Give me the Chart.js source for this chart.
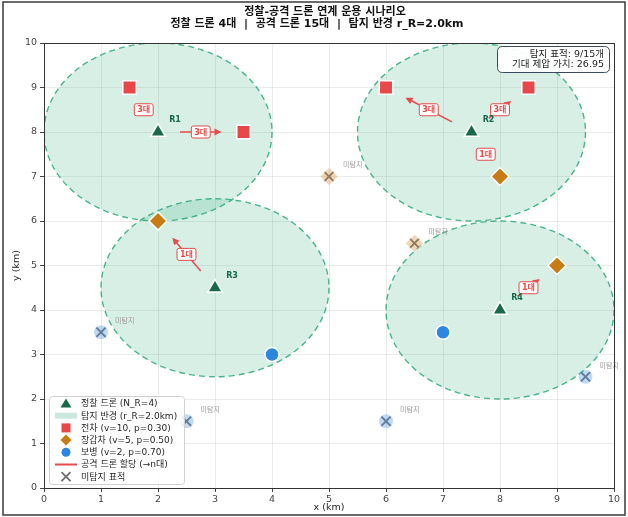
<!DOCTYPE html>
<html>
<head>
<meta charset="utf-8">
<script src="https://cdn.jsdelivr.net/npm/chart.js@4.4.1/dist/chart.umd.min.js"></script>
<style>
  html, body { margin: 0; padding: 0; background: #ffffff; }
  canvas { display: block; }
</style>
</head>
<body>
<canvas id="c" width="628" height="517"></canvas>
<script>
// ---------------- DATA ----------------
const titleLine1 = '정찰-공격 드론 연계 운용 시나리오';
const titleLine2 = '정찰 드론 4대  |  공격 드론 15대  |  탐지 반경 r_R=2.0km';
const xTicks = [0, 1, 2, 3, 4, 5, 6, 7, 8, 9, 10];
const yTicks = [0, 1, 2, 3, 4, 5, 6, 7, 8, 9, 10];
const detectRadius = 2.0;

const droneNames = ['R1', 'R2', 'R3', 'R4'];
const droneX = [2, 7.5, 3, 8];
const droneY = [8, 8, 4.5, 4];

const tankX = [1.5, 3.5, 6, 8.5];
const tankY = [9, 8, 9, 9];
const armorX = [2, 8, 9];
const armorY = [6, 7, 5];
const infantryX = [4, 7];
const infantryY = [3, 3.5];

const undetArmorX = [5, 6.5];
const undetArmorY = [7, 5.5];
const undetInfantryX = [1, 2.5, 6, 9.5];
const undetInfantryY = [3.5, 1.5, 1.5, 2.5];

const assignFrom = [0, 0, 1, 1, 1, 2, 3];
const assignToX = [1.5, 3.5, 6, 8.5, 8, 2, 9];
const assignToY = [9, 8, 9, 9, 7, 6, 5];
const assignCount = [3, 3, 3, 3, 1, 1, 1];

const legendLabels = ['정찰 드론 (N_R=4)', '탐지 반경 (r_R=2.0km)', '전차 (v=10, p=0.30)',
  '장갑차 (v=5, p=0.50)', '보병 (v=2, p=0.70)', '공격 드론 할당 (→n대)', '미탐지 표적'];
const infoLines = ['탐지 표적: 9/15개', '기대 제압 가치: 26.95'];
const undetLabel = '미탐지';

// ---------------- STYLE ----------------
const FONT = "'DejaVu Sans', 'Noto Sans CJK KR', sans-serif";
const C_DRONE = '#17694a';
const C_TANK = '#e8474a';
const C_ARMOR = '#c97a12';
const C_INF = '#2d86e0';
const C_ARROW = '#e64b4b';
const C_ZONE = 'rgba(44,168,122,0.185)';
const C_ZONE_EDGE = 'rgba(44,168,122,0.85)';

const pts = (xs, ys) => xs.map((x, i) => ({ x: x, y: ys[i] }));

function rr(ctx, x, y, w, h, r) {
  ctx.beginPath();
  ctx.moveTo(x + r, y);
  ctx.lineTo(x + w - r, y);
  ctx.quadraticCurveTo(x + w, y, x + w, y + r);
  ctx.lineTo(x + w, y + h - r);
  ctx.quadraticCurveTo(x + w, y + h, x + w - r, y + h);
  ctx.lineTo(x + r, y + h);
  ctx.quadraticCurveTo(x, y + h, x, y + h - r);
  ctx.lineTo(x, y + r);
  ctx.quadraticCurveTo(x, y, x + r, y);
  ctx.closePath();
}

const overlay = {
  id: 'overlay',
  beforeDatasetsDraw(chart) {
    const ctx = chart.ctx, xs = chart.scales.x, ys = chart.scales.y, a = chart.chartArea;
    ctx.save();
    ctx.beginPath();
    ctx.rect(a.left, a.top, a.right - a.left, a.bottom - a.top);
    ctx.clip();
    droneX.forEach((dx, i) => {
      const cx = xs.getPixelForValue(dx), cy = ys.getPixelForValue(droneY[i]);
      const rx = Math.abs(xs.getPixelForValue(dx + detectRadius) - cx);
      const ry = Math.abs(ys.getPixelForValue(droneY[i] + detectRadius) - cy);
      ctx.beginPath();
      ctx.ellipse(cx, cy, rx, ry, 0, 0, Math.PI * 2);
      ctx.fillStyle = C_ZONE;
      ctx.fill();
      ctx.setLineDash([6, 4]);
      ctx.lineWidth = 1.4;
      ctx.strokeStyle = C_ZONE_EDGE;
      ctx.stroke();
    });
    ctx.restore();
    // arrows
    ctx.save();
    assignFrom.forEach((di, k) => {
      const x0 = xs.getPixelForValue(droneX[di]), y0 = ys.getPixelForValue(droneY[di]);
      const x1 = xs.getPixelForValue(assignToX[k]), y1 = ys.getPixelForValue(assignToY[k]);
      const L = Math.hypot(x1 - x0, y1 - y0), ux = (x1 - x0) / L, uy = (y1 - y0) / L;
      const s = 22;
      const sx = x0 + ux * s, sy = y0 + uy * s, ex = x1 - ux * s, ey = y1 - uy * s;
      const hl = 7, hw = 3.5;
      ctx.strokeStyle = C_ARROW;
      ctx.fillStyle = C_ARROW;
      ctx.lineWidth = 1.5;
      ctx.beginPath();
      ctx.moveTo(sx, sy);
      ctx.lineTo(ex - ux * hl * 0.8, ey - uy * hl * 0.8);
      ctx.stroke();
      ctx.beginPath();
      ctx.moveTo(ex, ey);
      ctx.lineTo(ex - ux * hl - uy * hw, ey - uy * hl + ux * hw);
      ctx.lineTo(ex - ux * hl + uy * hw, ey - uy * hl - ux * hw);
      ctx.closePath();
      ctx.fill();
    });
    ctx.restore();
  },
  afterDatasetsDraw(chart) {
    const ctx = chart.ctx, xs = chart.scales.x, ys = chart.scales.y, a = chart.chartArea;
    ctx.save();
    // arrow labels
    ctx.font = 'bold 8px ' + FONT;
    ctx.textAlign = 'center';
    ctx.textBaseline = 'middle';
    assignFrom.forEach((di, k) => {
      const x0 = xs.getPixelForValue(droneX[di]), y0 = ys.getPixelForValue(droneY[di]);
      const x1 = xs.getPixelForValue(assignToX[k]), y1 = ys.getPixelForValue(assignToY[k]);
      const mx = (x0 + x1) / 2, my = (y0 + y1) / 2;
      const t = assignCount[k] + '대';
      const w = ctx.measureText(t).width + 6, h = 12;
      rr(ctx, mx - w / 2, my - h / 2, w, h, 2);
      ctx.fillStyle = 'rgba(255,255,255,0.92)';
      ctx.fill();
      ctx.strokeStyle = C_ARROW;
      ctx.lineWidth = 1;
      ctx.stroke();
      ctx.fillStyle = C_ARROW;
      ctx.fillText(t, mx, my + 0.5);
    });
    // drone labels
    ctx.font = 'bold 8px ' + FONT;
    ctx.fillStyle = C_DRONE;
    ctx.textAlign = 'center';
    droneNames.forEach((n, i) => {
      ctx.fillText(n, xs.getPixelForValue(droneX[i]) + 17, ys.getPixelForValue(droneY[i]) - 12);
    });
    // undetected labels
    ctx.font = '7px ' + FONT;
    ctx.fillStyle = '#9a9a9a';
    ctx.textAlign = 'left';
    const ux = undetArmorX.concat(undetInfantryX), uy = undetArmorY.concat(undetInfantryY);
    ux.forEach((x, i) => {
      ctx.fillText(undetLabel, xs.getPixelForValue(x) + 14, ys.getPixelForValue(uy[i]) - 11);
    });
    // frame of plot
    ctx.strokeStyle = '#333';
    ctx.lineWidth = 1;
    ctx.strokeRect(Math.round(a.left) + 0.5, Math.round(a.top) + 0.5, Math.round(a.right - a.left), Math.round(a.bottom - a.top));
    // legend
    const lx = 49, ly = 396, lw = 135, lh = 88;
    rr(ctx, lx + 0.5, ly + 0.5, lw, lh, 3);
    ctx.fillStyle = 'rgba(255,255,255,0.85)';
    ctx.fill();
    ctx.strokeStyle = '#d0d0d0';
    ctx.lineWidth = 1;
    ctx.stroke();
    const sxp = 66, txp = 81;
    ctx.font = '9px ' + FONT;
    ctx.textBaseline = 'middle';
    ctx.textAlign = 'left';
    legendLabels.forEach((lab, i) => {
      const yy = 403.5 + i * 12.2;
      ctx.save();
      switch (i) {
        case 0:
          ctx.beginPath();
          ctx.moveTo(sxp, yy - 5); ctx.lineTo(sxp + 5.5, yy + 4); ctx.lineTo(sxp - 5.5, yy + 4); ctx.closePath();
          ctx.fillStyle = C_DRONE; ctx.fill(); break;
        case 1:
          ctx.fillStyle = 'rgba(44,168,122,0.25)';
          ctx.fillRect(sxp - 11, yy - 3, 22, 6);
          break;
        case 2:
          ctx.fillStyle = C_TANK; ctx.fillRect(sxp - 4.5, yy - 4.5, 9, 9); break;
        case 3:
          ctx.beginPath();
          ctx.moveTo(sxp, yy - 5.5); ctx.lineTo(sxp + 5.5, yy); ctx.lineTo(sxp, yy + 5.5); ctx.lineTo(sxp - 5.5, yy); ctx.closePath();
          ctx.fillStyle = C_ARMOR; ctx.fill(); break;
        case 4:
          ctx.beginPath(); ctx.arc(sxp, yy, 4.5, 0, Math.PI * 2); ctx.fillStyle = C_INF; ctx.fill(); break;
        case 5:
          ctx.beginPath(); ctx.moveTo(sxp - 11, yy); ctx.lineTo(sxp + 11, yy);
          ctx.strokeStyle = C_ARROW; ctx.lineWidth = 2; ctx.stroke(); break;
        case 6:
          ctx.beginPath(); ctx.moveTo(sxp - 4.5, yy - 4.5); ctx.lineTo(sxp + 4.5, yy + 4.5);
          ctx.moveTo(sxp + 4.5, yy - 4.5); ctx.lineTo(sxp - 4.5, yy + 4.5);
          ctx.strokeStyle = '#6f6f6f'; ctx.lineWidth = 1.8; ctx.stroke(); break;
      }
      ctx.restore();
      ctx.fillStyle = '#262626';
      ctx.fillText(lab, txp, yy + 0.5);
    });
    // info box
    rr(ctx, 497.5, 46.5, 112, 26, 5);
    ctx.fillStyle = 'rgba(255,255,255,0.95)';
    ctx.fill();
    ctx.strokeStyle = '#3a4a5a';
    ctx.lineWidth = 1;
    ctx.stroke();
    ctx.fillStyle = '#222';
    ctx.font = '9.5px ' + FONT;
    ctx.textAlign = 'right';
    ctx.fillText(infoLines[0], 604, 54.5);
    ctx.fillText(infoLines[1], 604, 65);
    ctx.restore();
  },
  afterDraw(chart) {
    const ctx = chart.ctx, a = chart.chartArea;
    ctx.save();
    ctx.fillStyle = '#111';
    ctx.textAlign = 'center';
    ctx.textBaseline = 'middle';
    ctx.font = 'bold 11px ' + FONT;
    ctx.fillText(titleLine1, 325, 12.5);
    ctx.fillText(titleLine2, 317, 24.5);
    ctx.font = '9.5px ' + FONT;
    ctx.fillStyle = '#222';
    ctx.fillText('x (km)', (a.left + a.right) / 2, 508);
    ctx.translate(17, (a.top + a.bottom) / 2);
    ctx.rotate(-Math.PI / 2);
    ctx.fillText('y (km)', 0, 0);
    ctx.restore();
    // outer frame
    ctx.save();
    ctx.strokeStyle = '#3a3a3a';
    ctx.lineWidth = 1.5;
    ctx.strokeRect(3, 2, 622, 513);
    ctx.restore();
  }
};

new Chart(document.getElementById('c'), {
  type: 'scatter',
  data: {
    datasets: [
      { label: 'undetInfantry', data: pts(undetInfantryX, undetInfantryY), pointStyle: 'circle', pointRadius: 7,
        backgroundColor: 'rgba(45,134,224,0.3)', borderColor: 'rgba(45,134,224,0.3)', borderWidth: 0 },
      { label: 'undetArmor', data: pts(undetArmorX, undetArmorY), pointStyle: 'rectRot', pointRadius: 9,
        backgroundColor: 'rgba(201,122,18,0.3)', borderColor: 'rgba(255,255,255,0.6)', borderWidth: 1 },
      { label: 'undetX', data: pts(undetArmorX.concat(undetInfantryX), undetArmorY.concat(undetInfantryY)),
        pointStyle: 'crossRot', pointRadius: 6.5, borderColor: '#7a7a7a', backgroundColor: '#7a7a7a', borderWidth: 2 },
      { label: 'tank', data: pts(tankX, tankY), pointStyle: 'rect', pointRadius: 9.5,
        backgroundColor: C_TANK, borderColor: '#ffffff', borderWidth: 1.5 },
      { label: 'armor', data: pts(armorX, armorY), pointStyle: 'rectRot', pointRadius: 9,
        backgroundColor: C_ARMOR, borderColor: '#ffffff', borderWidth: 1.5 },
      { label: 'infantry', data: pts(infantryX, infantryY), pointStyle: 'circle', pointRadius: 7,
        backgroundColor: C_INF, borderColor: '#ffffff', borderWidth: 1.5 },
      { label: 'drone', data: pts(droneX, droneY), pointStyle: 'triangle', pointRadius: 8.5,
        backgroundColor: C_DRONE, borderColor: '#ffffff', borderWidth: 1.5 }
    ]
  },
  options: {
    responsive: false,
    animation: false,
    events: [],
    layout: { padding: { left: 0, top: 43, right: 14, bottom: 0 } },
    plugins: { legend: { display: false }, tooltip: { enabled: false }, title: { display: false } },
    scales: {
      x: {
        type: 'linear', min: 0, max: 10,
        afterBuildTicks: s => { s.ticks = xTicks.map(v => ({ value: v })); },
        afterFit: s => { s.height = 29; },
        ticks: { font: { family: FONT, size: 9.5 }, color: '#444', padding: 2, maxRotation: 0 },
        grid: { color: 'rgba(0,0,0,0.08)', tickColor: '#444', tickLength: 4, lineWidth: 1 },
        border: { color: '#333', width: 1 }
      },
      y: {
        type: 'linear', min: 0, max: 10,
        afterBuildTicks: s => { s.ticks = yTicks.map(v => ({ value: v })); },
        afterFit: s => { s.width = 44; },
        ticks: { font: { family: FONT, size: 9.5 }, color: '#444', padding: 3 },
        grid: { color: 'rgba(0,0,0,0.08)', tickColor: '#444', tickLength: 4, lineWidth: 1 },
        border: { color: '#333', width: 1 }
      }
    }
  },
  plugins: [overlay]
});
</script>
</body>
</html>
